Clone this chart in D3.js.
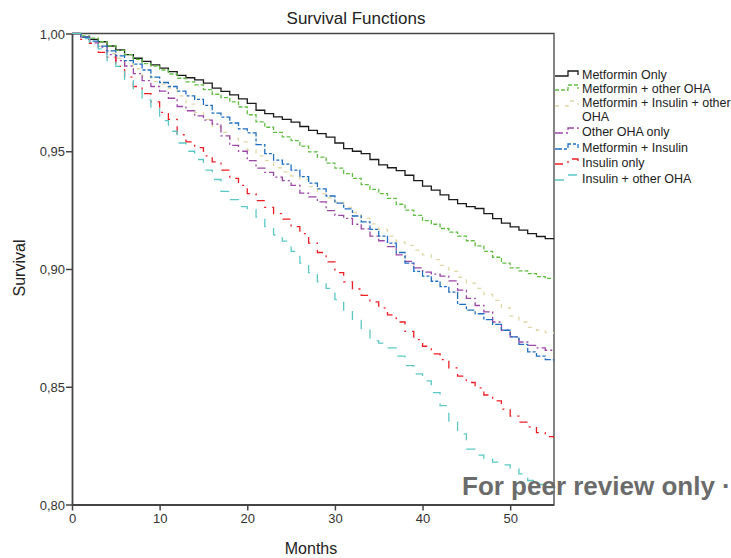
<!DOCTYPE html>
<html>
<head>
<meta charset="utf-8">
<script src="https://cdn.jsdelivr.net/npm/d3@7"></script>
<style>
  body { margin: 0; background: #fff; }
  svg { font-family: "Liberation Sans", Arial, sans-serif; }
</style>
</head>
<body>
<div id="chart"></div>
<script>
// months 0..55, one value per month (Kaplan-Meier steps)
var months = d3.range(0, 56);

var metforminOnly = [1.0000,0.9985,0.9975,0.9965,0.9947,0.9930,0.9910,0.9895,0.9882,0.9867,
  0.9853,0.9838,0.9822,0.9812,0.9803,0.9789,0.9768,0.9754,0.9739,0.9722,
  0.9703,0.9674,0.9660,0.9646,0.9635,0.9624,0.9605,0.9589,0.9575,0.9560,
  0.9535,0.9511,0.9500,0.9490,0.9465,0.9442,0.9430,0.9418,0.9398,0.9375,
  0.9352,0.9335,0.9315,0.9295,0.9278,0.9265,0.9257,0.9235,0.9214,0.9195,
  0.9179,0.9165,0.9150,0.9138,0.9129,0.9125];

var metforminOtherOHA = [1.0000,0.9990,0.9980,0.9965,0.9948,0.9928,0.9910,0.9890,0.9872,0.9862,
  0.9845,0.9828,0.9810,0.9795,0.9782,0.9762,0.9742,0.9728,0.9710,0.9688,
  0.9655,0.9625,0.9602,0.9580,0.9561,0.9545,0.9522,0.9497,0.9475,0.9450,
  0.9428,0.9405,0.9385,0.9358,0.9338,0.9320,0.9300,0.9275,0.9250,0.9228,
  0.9205,0.9190,0.9172,0.9157,0.9140,0.9120,0.9098,0.9075,0.9050,0.9025,
  0.9005,0.8992,0.8980,0.8968,0.8960,0.8957];

var metforminInsulinOHA = [1.0000,0.9985,0.9965,0.9945,0.9915,0.9895,0.9872,0.9850,0.9820,0.9796,
  0.9785,0.9768,0.9735,0.9700,0.9665,0.9635,0.9605,0.9580,0.9555,0.9540,
  0.9505,0.9480,0.9460,0.9430,0.9412,0.9395,0.9380,0.9350,0.9320,0.9302,
  0.9285,0.9262,0.9240,0.9215,0.9192,0.9168,0.9140,0.9115,0.9100,0.9080,
  0.9060,0.9040,0.9015,0.8990,0.8965,0.8940,0.8918,0.8892,0.8867,0.8835,
  0.8800,0.8775,0.8752,0.8740,0.8730,0.8725];

var otherOHAOnly = [1.0000,0.9985,0.9960,0.9942,0.9910,0.9885,0.9862,0.9830,0.9800,0.9775,
  0.9755,0.9725,0.9690,0.9672,0.9650,0.9632,0.9615,0.9565,0.9525,0.9500,
  0.9460,0.9428,0.9410,0.9390,0.9375,0.9355,0.9322,0.9306,0.9285,0.9248,
  0.9228,0.9215,0.9190,0.9170,0.9140,0.9120,0.9095,0.9060,0.9032,0.9005,
  0.8987,0.8978,0.8970,0.8950,0.8910,0.8875,0.8845,0.8818,0.8775,0.8740,
  0.8712,0.8690,0.8676,0.8665,0.8655,0.8652];

var metforminInsulin = [1.0000,0.9985,0.9968,0.9946,0.9926,0.9905,0.9885,0.9870,0.9845,0.9815,
  0.9792,0.9775,0.9755,0.9735,0.9720,0.9695,0.9662,0.9645,0.9620,0.9595,
  0.9578,0.9528,0.9490,0.9462,0.9445,0.9420,0.9392,0.9365,0.9340,0.9310,
  0.9280,0.9255,0.9225,0.9200,0.9168,0.9140,0.9110,0.9070,0.9025,0.8990,
  0.8970,0.8948,0.8925,0.8902,0.8850,0.8825,0.8810,0.8785,0.8765,0.8740,
  0.8712,0.8680,0.8648,0.8630,0.8615,0.8607];

var insulinOnly = [1.0000,0.9975,0.9958,0.9920,0.9900,0.9860,0.9815,0.9775,0.9745,0.9710,
  0.9665,0.9635,0.9570,0.9540,0.9515,0.9480,0.9455,0.9420,0.9385,0.9355,
  0.9320,0.9290,0.9262,0.9235,0.9212,0.9180,0.9150,0.9110,0.9070,0.9030,
  0.8985,0.8945,0.8915,0.8888,0.8860,0.8835,0.8805,0.8775,0.8735,0.8700,
  0.8672,0.8640,0.8615,0.8580,0.8545,0.8518,0.8495,0.8465,0.8440,0.8405,
  0.8375,0.8350,0.8330,0.8305,0.8288,0.8282];

var insulinOtherOHA = [1.0000,0.9978,0.9955,0.9935,0.9885,0.9860,0.9800,0.9760,0.9718,0.9680,
  0.9630,0.9585,0.9535,0.9500,0.9465,0.9420,0.9380,0.9330,0.9295,0.9265,
  0.9252,0.9220,0.9180,0.9145,0.9118,0.9075,0.9025,0.8985,0.8945,0.8918,
  0.8870,0.8825,0.8782,0.8740,0.8695,0.8685,0.8665,0.8630,0.8590,0.8555,
  0.8525,0.8475,0.8420,0.8350,0.8300,0.8235,0.8210,0.8195,0.8180,0.8168,
  0.8155,0.8130,0.8102,0.8085,0.8070,0.8060];

var seriesNames = ["Metformin Only", "Metformin + other OHA", "Metformin + Insulin + other OHA",
  "Other OHA only", "Metformin + Insulin", "Insulin only", "Insulin + other OHA"];
var seriesValues = [metforminOnly, metforminOtherOHA, metforminInsulinOHA, otherOHAOnly,
  metforminInsulin, insulinOnly, insulinOtherOHA];
var seriesColors = ["#1a1a1a", "#62bd45", "#ddd8a6", "#9b47a5", "#1f6ebf", "#ee1d25", "#5cc8c6"];
var seriesDash = [null, "4,2", "4,6", "8,3,2,3", "7,2,3,2", "8,6,2,6", "9,9"];

var xTicks = [0, 10, 20, 30, 40, 50];
var yTicks = [0.80, 0.85, 0.90, 0.95, 1.00];

var W = 731, H = 558;
var margin = {top: 33.5, right: 177, bottom: 53.5, left: 72};
var width = W - margin.left - margin.right,
    height = H - margin.top - margin.bottom;

var svg = d3.select("#chart").append("svg")
    .attr("width", W)
    .attr("height", H);

var x = d3.scaleLinear().domain([0, 55]).range([margin.left, margin.left + width]);
var y = d3.scaleLinear().domain([0.80, 1.00]).range([margin.top + height, margin.top]);

svg.append("defs").append("clipPath").attr("id", "clip")
  .append("rect")
    .attr("x", margin.left).attr("y", margin.top - 1)
    .attr("width", width).attr("height", height + 1);

// frame (top + right)
svg.append("path")
    .attr("d", "M" + x(0) + "," + y(1) + "H" + x(55) + "V" + y(0.8))
    .attr("fill", "none")
    .attr("stroke", "#444")
    .attr("stroke-width", 1.3);

var line = d3.line()
    .x(function(d, i) { return x(months[i]); })
    .y(function(d) { return y(d); })
    .curve(d3.curveStepAfter);

var lines = svg.append("g").attr("clip-path", "url(#clip)");
seriesValues.forEach(function(vals, k) {
  lines.append("path")
      .datum(vals)
      .attr("d", line)
      .attr("fill", "none")
      .attr("stroke", seriesColors[k])
      .attr("stroke-width", 1.3)
      .attr("stroke-dasharray", seriesDash[k]);
});

// axes
var xAxis = svg.append("g")
    .attr("transform", "translate(0," + y(0.8) + ")")
    .call(d3.axisBottom(x).tickValues(xTicks).tickSize(6).tickSizeOuter(0).tickFormat(d3.format("d")));
var yAxis = svg.append("g")
    .attr("transform", "translate(" + x(0) + ",0)")
    .call(d3.axisLeft(y).tickValues(yTicks).tickSize(6).tickSizeOuter(0)
      .tickFormat(function(d) { return d3.format(".2f")(d).replace(".", ","); }));

[xAxis, yAxis].forEach(function(a) {
  a.select(".domain").attr("stroke", "#444").attr("stroke-width", 1.8);
  a.selectAll(".tick line").attr("stroke", "#444").attr("stroke-width", 1.5);
  a.selectAll(".tick text").attr("fill", "#333").style("font-size", "13px")
    .style("font-family", "'Liberation Sans', Arial, sans-serif");
});
yAxis.selectAll(".tick text").attr("x", -7).attr("dy", "0.35em");
xAxis.selectAll(".tick text").attr("y", 9);

// titles
svg.append("text")
    .attr("x", 356).attr("y", 24)
    .attr("text-anchor", "middle")
    .attr("fill", "#222")
    .style("font-size", "17px")
    .text("Survival Functions");

svg.append("text")
    .attr("x", 311).attr("y", 554)
    .attr("text-anchor", "middle")
    .attr("fill", "#222")
    .style("font-size", "16px")
    .text("Months");

svg.append("text")
    .attr("transform", "translate(25,268) rotate(-90)")
    .attr("text-anchor", "middle")
    .attr("fill", "#222")
    .style("font-size", "16px")
    .text("Survival");

// legend
var legendRows = [74, 88, 104, 131, 147, 162, 178];
var legend = svg.append("g");
seriesNames.forEach(function(name, k) {
  var cy = legendRows[k];
  legend.append("path")
      .attr("d", "M555," + (cy + 2) + "H568V" + (cy - 3) + "H578V" + (cy + 1))
      .attr("fill", "none")
      .attr("stroke", seriesColors[k])
      .attr("stroke-width", 1.3)
      .attr("stroke-dasharray", seriesDash[k]);
  if (k === 2) {
    // wrapped over two lines as in the original legend
    legend.append("text")
        .attr("x", 582).attr("y", cy + 3)
        .attr("fill", "#222")
        .style("font-size", "12.5px")
        .text("Metformin + Insulin + other");
    legend.append("text")
        .attr("x", 582).attr("y", cy + 17)
        .attr("fill", "#222")
        .style("font-size", "12.5px")
        .text("OHA");
  } else {
    legend.append("text")
        .attr("x", 582).attr("y", cy + 4.5)
        .attr("fill", "#222")
        .style("font-size", "12.5px")
        .text(name);
  }
});

// watermark
svg.append("text")
    .attr("x", 462).attr("y", 495)
    .attr("fill", "#6b6b6b")
    .style("font-size", "26px")
    .style("font-weight", "bold")
    .text("For peer review only \u00b7");
</script>
</body>
</html>
